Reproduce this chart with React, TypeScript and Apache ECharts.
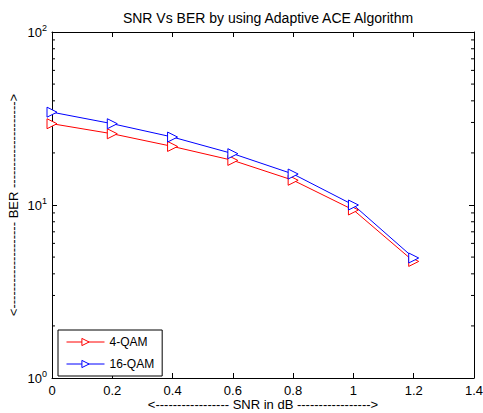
import React, { useEffect, useRef } from "react";
import * as echarts from "echarts";

const snr = [0, 0.2, 0.4, 0.6, 0.8, 1, 1.2];
const qam4 = [29.5, 25.8, 21.8, 18.1, 13.9, 9.36, 4.72];
const qam16 = [34.4, 29.5, 24.7, 19.8, 15.1, 10.0, 4.94];
const seriesNames = ["4-QAM", "16-QAM"];
const yMinorTicks = [2, 3, 4, 5, 6, 7, 8, 9, 20, 30, 40, 50, 60, 70, 80, 90];
const titleText = "SNR Vs BER by using Adaptive ACE Algorithm";
const xName = "<" + "-".repeat(17) + " SNR in dB " + "-".repeat(17) + ">";
const yName = "<" + "-".repeat(20) + " BER " + "-".repeat(20) + ">";

const FONT = "Liberation Sans, Arial, sans-serif";

export default function App() {
  const ref = useRef<HTMLDivElement>(null);
  useEffect(() => {
    if (!ref.current) return;
    const chart = echarts.init(ref.current, null, { renderer: "svg" });
    const axisLine = { show: true, onZero: false, lineStyle: { color: "#000", width: 1 } };
    const tick = { show: true, inside: true, length: 5, lineStyle: { color: "#000" } };
    const option: any = {
      animation: false,
      backgroundColor: "#fff",
      textStyle: { fontFamily: FONT },
      title: {
        text: titleText,
        left: 263,
        textAlign: "center",
        top: 6,
        textStyle: { fontSize: 14, fontWeight: "normal", color: "#000", fontFamily: FONT },
      },
      grid: { left: 52, right: 9, top: 32, bottom: 35, containLabel: false, outerBoundsMode: "none" },
      legend: {
        data: seriesNames,
        orient: "vertical",
        left: 58,
        top: 330,
        width: 104,
        padding: [6, 8, 6, 8],
        itemGap: 10,
        itemWidth: 38,
        itemHeight: 9,
        borderColor: "#000",
        borderWidth: 1,
        backgroundColor: "#fff",
        lineStyle: { width: 1 },
        itemStyle: { borderWidth: 1, color: "#fff" },
        textStyle: { fontSize: 12, color: "#000", fontFamily: FONT },
      },
      xAxis: [
        {
          type: "value",
          min: 0,
          max: 1.4,
          interval: 0.2,
          position: "bottom",
          axisLine,
          axisTick: tick,
          axisLabel: {
            color: "#000",
            fontSize: 13,
            margin: 6,
            fontFamily: FONT,
            formatter: (v: number) => String(Math.round(v * 10) / 10),
          },
          splitLine: { show: false },
          name: xName,
          nameLocation: "middle",
          nameGap: 20,
          nameMoveOverlap: false,
          nameTextStyle: { fontSize: 13, color: "#000", fontFamily: FONT },
        },
        {
          type: "value",
          min: 0,
          max: 1.4,
          interval: 0.2,
          position: "top",
          axisLine,
          axisTick: tick,
          axisLabel: { show: false },
          splitLine: { show: false },
        },
      ],
      yAxis: [
        {
          type: "log",
          logBase: 10,
          min: 1,
          max: 100,
          position: "left",
          axisLine,
          axisTick: tick,
          axisLabel: {
            color: "#000",
            margin: 5,
            fontFamily: FONT,
            formatter: (v: number) => `{b|10}{s|${Math.round(Math.log10(v))}}`,
            rich: {
              b: { fontSize: 13, color: "#000", fontFamily: FONT },
              s: { fontSize: 9, color: "#000", fontFamily: FONT, padding: [0, 0, 9, 0] },
            },
          },
          splitLine: { show: false },
          name: yName,
          nameLocation: "middle",
          nameGap: 32,
          nameMoveOverlap: false,
          nameRotate: 90,
          nameTextStyle: { fontSize: 13, color: "#000", fontFamily: FONT },
        },
        {
          type: "log",
          logBase: 10,
          min: 1,
          max: 100,
          position: "right",
          axisLine,
          axisTick: tick,
          axisLabel: { show: false },
          splitLine: { show: false },
        },
      ],
      series: [
        {
          name: seriesNames[0],
          type: "line",
          data: snr.map((x, i) => [x, qam4[i]]),
          color: "#ff0000",
          lineStyle: { color: "#ff0000", width: 1 },
          symbol: "triangle",
          symbolRotate: -90,
          symbolSize: 10,
          itemStyle: { color: "#fff", borderColor: "#ff0000", borderWidth: 1 },
          z: 3,
        },
        {
          name: seriesNames[1],
          type: "line",
          data: snr.map((x, i) => [x, qam16[i]]),
          color: "#0000ff",
          lineStyle: { color: "#0000ff", width: 1 },
          symbol: "triangle",
          symbolRotate: -90,
          symbolSize: 10,
          itemStyle: { color: "#fff", borderColor: "#0000ff", borderWidth: 1 },
          z: 3,
        },
        {
          type: "custom",
          silent: true,
          data: yMinorTicks.map((v) => [0, v]),
          renderItem: (params: any, api: any) => {
            const v = api.value(1);
            const l = api.coord([0, v]);
            const r = api.coord([1.4, v]);
            return {
              type: "group",
              children: [
                { type: "line", shape: { x1: l[0], y1: l[1], x2: l[0] + 3, y2: l[1] }, style: { stroke: "#000", lineWidth: 1 } },
                { type: "line", shape: { x1: r[0], y1: r[1], x2: r[0] - 3, y2: r[1] }, style: { stroke: "#000", lineWidth: 1 } },
              ],
            };
          },
          z: 1,
        },
      ],
    };
    chart.setOption(option);
    return () => chart.dispose();
  }, []);
  return (
    <div
      ref={ref}
      style={{ position: "fixed", left: 0, top: 0, width: 483, height: 413, background: "#fff" }}
    />
  );
}
